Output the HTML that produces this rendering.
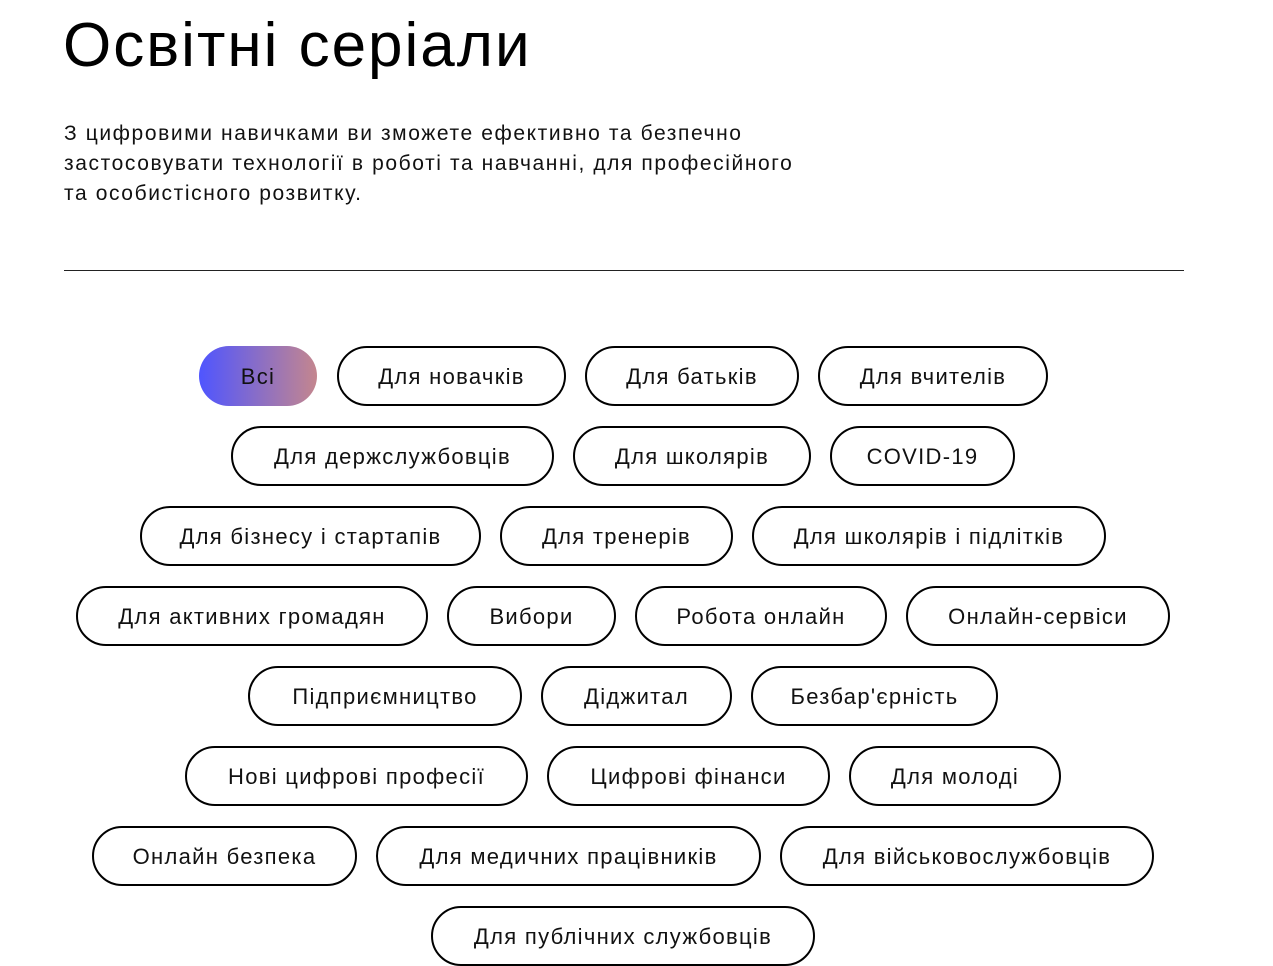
<!DOCTYPE html>
<html><head><meta charset="utf-8"><style>
body{margin:0;width:1273px;height:962px;background:#fff;position:relative;overflow:hidden;font-family:"Liberation Sans","DejaVu Sans",sans-serif;color:#000}
h1{position:absolute;left:63px;top:11px;margin:0;font-weight:400;font-size:62px;line-height:70px;letter-spacing:2px}
p{position:absolute;left:64px;top:119px;margin:0;font-size:21px;line-height:30px;letter-spacing:1.6px;color:#111}
.hr{position:absolute;left:64px;top:270px;width:1120px;height:1px;background:#222}
.b{position:absolute;height:56px;border:2px solid #000;border-radius:30px;box-sizing:content-box;display:flex;align-items:center;justify-content:center;font-size:22px;letter-spacing:1.3px;color:#111;padding-top:2px;height:54px}
.all{border:none;height:58px;background:linear-gradient(90deg,#4f55ff,#c4868e)}
</style></head><body>
<h1>Освітні серіали</h1>
<p>З цифровими навичками ви зможете ефективно та безпечно<br>застосовувати технології в роботі та навчанні, для професійного<br>та особистісного розвитку.</p>
<div class="hr"></div>
<div class="b all" style="left:199px;top:346px;width:118px">Всі</div>
<div class="b" style="left:337px;top:346px;width:225px">Для новачків</div>
<div class="b" style="left:585px;top:346px;width:210px">Для батьків</div>
<div class="b" style="left:818px;top:346px;width:226px">Для вчителів</div>

<div class="b" style="left:231px;top:426px;width:319px">Для держслужбовців</div>
<div class="b" style="left:573px;top:426px;width:234px">Для школярів</div>
<div class="b" style="left:830px;top:426px;width:181px">COVID-19</div>

<div class="b" style="left:140px;top:506px;width:337px">Для бізнесу і стартапів</div>
<div class="b" style="left:500px;top:506px;width:229px">Для тренерів</div>
<div class="b" style="left:752px;top:506px;width:350px">Для школярів і підлітків</div>

<div class="b" style="left:76px;top:586px;width:348px">Для активних громадян</div>
<div class="b" style="left:447px;top:586px;width:165px">Вибори</div>
<div class="b" style="left:635px;top:586px;width:248px">Робота онлайн</div>
<div class="b" style="left:906px;top:586px;width:260px">Онлайн-сервіси</div>

<div class="b" style="left:248px;top:666px;width:270px">Підприємництво</div>
<div class="b" style="left:541px;top:666px;width:187px">Діджитал</div>
<div class="b" style="left:751px;top:666px;width:243px">Безбар'єрність</div>

<div class="b" style="left:185px;top:746px;width:339px">Нові цифрові професії</div>
<div class="b" style="left:547px;top:746px;width:279px">Цифрові фінанси</div>
<div class="b" style="left:849px;top:746px;width:208px">Для молоді</div>

<div class="b" style="left:92px;top:826px;width:261px">Онлайн безпека</div>
<div class="b" style="left:376px;top:826px;width:381px">Для медичних працівників</div>
<div class="b" style="left:780px;top:826px;width:370px">Для військовослужбовців</div>

<div class="b" style="left:431px;top:906px;width:380px">Для публічних службовців</div>
</body></html>
